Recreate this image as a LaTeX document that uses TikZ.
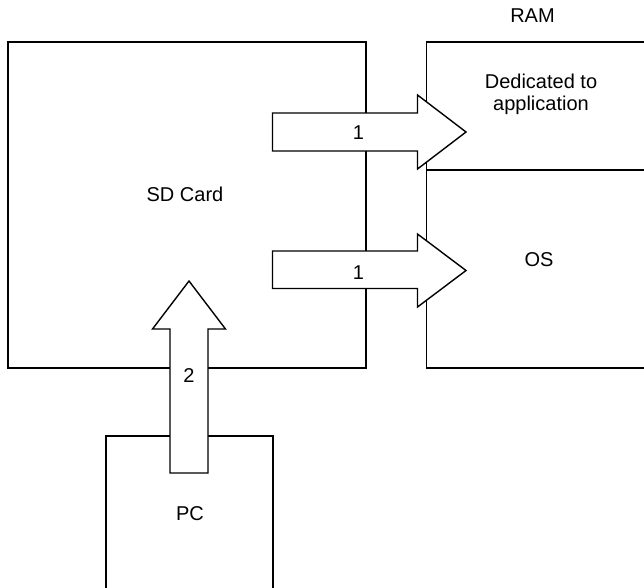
\documentclass[tikz,border=0pt]{standalone}
\usepackage{fontspec}
\setmainfont{Liberation Sans}
\usetikzlibrary{positioning}

\begin{document}
\begin{tikzpicture}[x=1pt, y=-1pt, every node/.style={font=\fontsize{20}{22}\selectfont}, box/.style={draw,line width=1.4pt,outer sep=0pt,inner sep=0pt,anchor=north west}, blockarrow/.style={draw,fill=white,line width=1.4pt,line join=miter}, lbl/.style={align=center,inner sep=0pt}]
\useasboundingbox (0,0) rectangle (644,587);
\clip (0,0) rectangle (644,587);
% boxes
\node[box, minimum width=358, minimum height=326] (sdcard) at (8,42) {};
\node[box, minimum width=226, minimum height=128] (appmem) at (426.5,42) {};
\node[box, minimum width=226, minimum height=198] (osmem) at (appmem.south west) {};
\node[box, minimum width=167, minimum height=175] (pc) at (106,436) {};
% texts
\node[lbl] (sdtext) at (185,194) {SD Card};
\node[lbl] (apptext) at (541,94) {Dedicated to\\application};
\node[lbl] (ostext) at (539,260) {OS};
\node[lbl] (pctext) at (190,514) {PC};
\node[lbl] (ramtext) at (532.5,15.5) {RAM};
% block arrows
\draw[blockarrow] (272.5,113) -- (417.5,113) -- (417.5,95) -- (466,132) -- (417.5,169) -- (417.5,151) -- (272.5,151) -- cycle;
\draw[blockarrow] (272.5,251) -- (417.5,251) -- (417.5,234) -- (466,270.5) -- (417.5,307) -- (417.5,288.5) -- (272.5,288.5) -- cycle;
\draw[blockarrow] (170,473) -- (170,329) -- (152.5,329) -- (189,281) -- (225.5,329) -- (208,329) -- (208,473) -- cycle;
\node[lbl] (load1) at (358.5,133) {1};
\node[lbl] (load2) at (358.5,273) {1};
\node[lbl] (copy) at (189,376) {2};
\end{tikzpicture}
\end{document}
